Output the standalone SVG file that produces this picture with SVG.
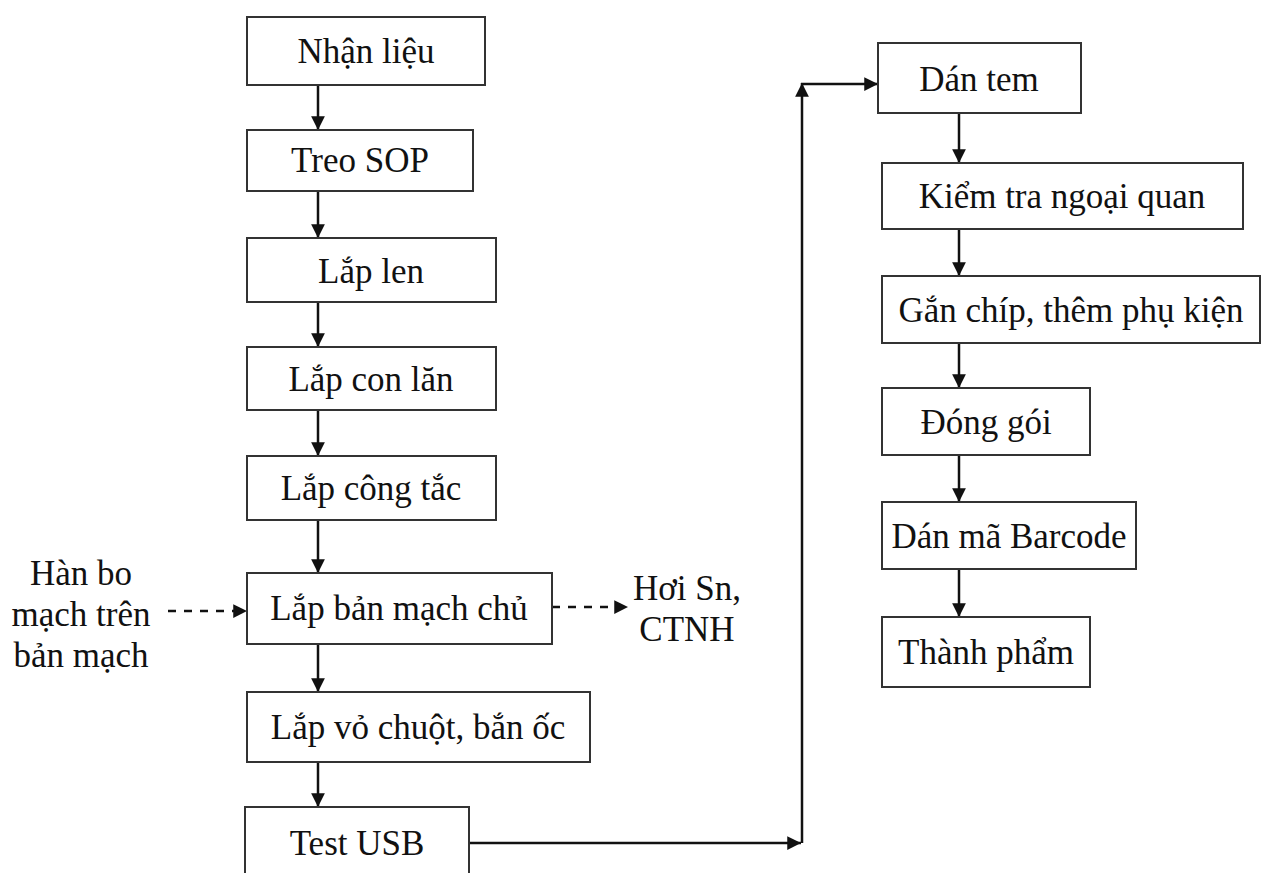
<svg xmlns="http://www.w3.org/2000/svg" width="1268" height="873" viewBox="0 0 1268 873">
<style>
.box{fill:#fff;stroke:#333;stroke-width:2}
.t{font-family:"Liberation Serif","Times New Roman",serif;font-size:35px;fill:#111;text-anchor:middle}
.ln{stroke:#111;stroke-width:2.5;fill:none}
.ds{stroke:#111;stroke-width:2.5;fill:none;stroke-dasharray:8 8}
</style>
<defs>
<marker id="ah" viewBox="0 0 10 10" refX="10" refY="5" markerWidth="6.5" markerHeight="5.5" markerUnits="strokeWidth" orient="auto">
<path d="M0,0 L10,5 L0,10 z" fill="#111"/>
</marker>
</defs>
<rect width="1268" height="873" fill="#fff"/>
<g id="connectors">
<line class="ln" x1="318" y1="85" x2="318" y2="130" marker-end="url(#ah)"/>
<line class="ln" x1="318" y1="191" x2="318" y2="238" marker-end="url(#ah)"/>
<line class="ln" x1="318" y1="302" x2="318" y2="347" marker-end="url(#ah)"/>
<line class="ln" x1="318" y1="410" x2="318" y2="456" marker-end="url(#ah)"/>
<line class="ln" x1="318" y1="520" x2="318" y2="573" marker-end="url(#ah)"/>
<line class="ln" x1="318" y1="644" x2="318" y2="692" marker-end="url(#ah)"/>
<line class="ln" x1="318" y1="762" x2="318" y2="807" marker-end="url(#ah)"/>
<line class="ds" x1="168" y1="611" x2="247" y2="611" marker-end="url(#ah)"/>
<line class="ds" x1="552" y1="607" x2="628" y2="607" marker-end="url(#ah)"/>
<line class="ln" x1="469" y1="843" x2="801" y2="843" marker-end="url(#ah)"/>
<line class="ln" x1="802" y1="843" x2="802" y2="83" marker-end="url(#ah)"/>
<line class="ln" x1="801" y1="84" x2="878" y2="84" marker-end="url(#ah)"/>
<line class="ln" x1="959" y1="113" x2="959" y2="163" marker-end="url(#ah)"/>
<line class="ln" x1="959" y1="229" x2="959" y2="276" marker-end="url(#ah)"/>
<line class="ln" x1="959" y1="343" x2="959" y2="388" marker-end="url(#ah)"/>
<line class="ln" x1="959" y1="455" x2="959" y2="502" marker-end="url(#ah)"/>
<line class="ln" x1="959" y1="569" x2="959" y2="617" marker-end="url(#ah)"/>
</g>
<g id="n1"><rect class="box" x="247" y="17" width="238" height="68"/><text class="t" x="366" y="63">Nhận liệu</text></g>
<g id="n2"><rect class="box" x="247" y="130" width="226" height="61"/><text class="t" x="360" y="172">Treo SOP</text></g>
<g id="n3"><rect class="box" x="247" y="238" width="249" height="64"/><text class="t" x="371" y="283">Lắp len</text></g>
<g id="n4"><rect class="box" x="247" y="347" width="249" height="63"/><text class="t" x="371" y="391">Lắp con lăn</text></g>
<g id="n5"><rect class="box" x="247" y="456" width="249" height="64"/><text class="t" x="371" y="500">Lắp công tắc</text></g>
<g id="n6"><rect class="box" x="247" y="573" width="305" height="71"/><text class="t" x="399" y="620">Lắp bản mạch chủ</text></g>
<g id="n7"><rect class="box" x="247" y="692" width="343" height="70"/><text class="t" x="418" y="739">Lắp vỏ chuột, bắn ốc</text></g>
<g id="n8"><rect class="box" x="245" y="807" width="224" height="80"/><text class="t" x="357" y="855">Test USB</text></g>
<g id="in"><text class="t" x="81" y="585">Hàn bo</text><text class="t" x="81" y="626">mạch trên</text><text class="t" x="81" y="667">bản mạch</text></g>
<g id="out"><text class="t" x="687" y="600">Hơi Sn,</text><text class="t" x="687" y="641">CTNH</text></g>
<g id="r1"><rect class="box" x="878" y="43" width="203" height="70"/><text class="t" x="979" y="91">Dán tem</text></g>
<g id="r2"><rect class="box" x="882" y="163" width="361" height="66"/><text class="t" x="1062" y="208">Kiểm tra ngoại quan</text></g>
<g id="r3"><rect class="box" x="882" y="276" width="378" height="67"/><text class="t" x="1071" y="322">Gắn chíp, thêm phụ kiện</text></g>
<g id="r4"><rect class="box" x="882" y="388" width="208" height="67"/><text class="t" x="986" y="434">Đóng gói</text></g>
<g id="r5"><rect class="box" x="882" y="502" width="254" height="67"/><text class="t" x="1009" y="548">Dán mã Barcode</text></g>
<g id="r6"><rect class="box" x="882" y="617" width="208" height="70"/><text class="t" x="986" y="664">Thành phẩm</text></g>
</svg>
